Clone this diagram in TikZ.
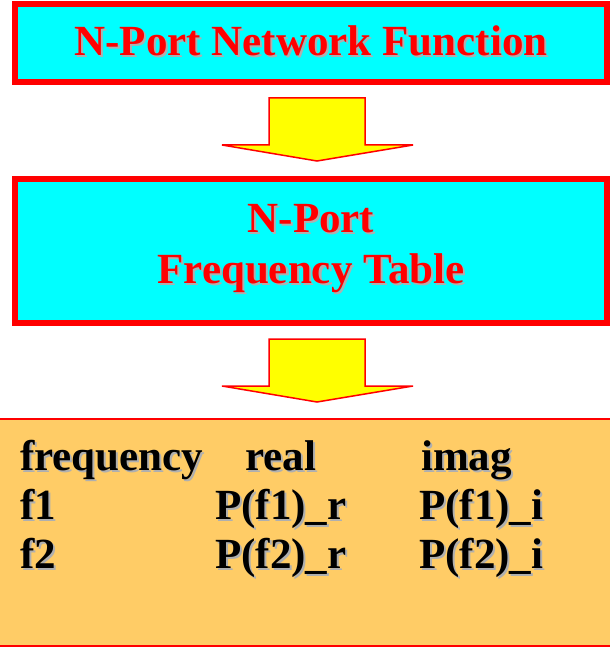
\documentclass[tikz,border=0pt]{standalone}
\usepackage{fontspec}
\setmainfont{Liberation Serif}
\usetikzlibrary{calc}

\definecolor{boxcyan}{RGB}{0,255,255}
\definecolor{boxred}{RGB}{255,0,0}
\definecolor{arrowyellow}{RGB}{255,255,0}
\definecolor{tableorange}{RGB}{255,204,102}
\definecolor{shadowgray}{RGB}{175,175,175}

% text with a soft grey drop shadow
\newcommand{\shtext}[2]{%
  \rlap{\hspace{2pt}\raisebox{-2pt}{\textcolor{shadowgray}{#2}}}\textcolor{#1}{#2}}

\tikzset{
  titlebox/.style={draw=boxred, line width=6pt, fill=boxcyan},
  bigarrow/.style={draw=boxred, line width=1.5pt, fill=arrowyellow, line join=miter},
  bigfont/.style={font=\bfseries\fontsize{43}{51}\selectfont, inner sep=0pt},
  titletext/.style={bigfont, anchor=base},
  celltext/.style={bigfont, anchor=base west},
}

\begin{document}
\begin{tikzpicture}[x=1pt, y=-1pt]
  \useasboundingbox (0,0) rectangle (610,647);

  % first block
  \draw[titlebox] (15,4) rectangle (607,82);
  \node[titletext] (t1) at (311,56) {\shtext{boxred}{N-Port Network Function}};

  % arrow between first and second block
  \coordinate (a1) at (317,98);
  \draw[bigarrow, shift={(a1)}]
    (-48,0) -- (48,0) -- (48,47) -- (96,47) -- (0,63) -- (-95,47) -- (-48,47) -- cycle;

  % second block
  \draw[titlebox] (15,179) rectangle (607,323);
  \node[titletext] (t2a) at (311,232) {\shtext{boxred}{N-Port}};
  \node[titletext] (t2b) at (311,283) {\shtext{boxred}{Frequency Table}};

  % arrow between second block and table
  \coordinate (a2) at (317,339);
  \draw[bigarrow, shift={(a2)}]
    (-48,0) -- (48,0) -- (48,47) -- (96,47) -- (0,63) -- (-95,47) -- (-48,47) -- cycle;

  % table panel
  \fill[tableorange] (0,419) rectangle (610,647);
  \draw[boxred, line width=2pt] (0,419) -- (610,419);
  \draw[boxred, line width=2pt] (0,646) -- (610,646);

  % table contents
  \node[celltext] (h1) at (20,470)  {\shtext{black}{frequency}};
  \node[celltext] (h2) at (245,470) {\shtext{black}{real}};
  \node[celltext] (h3) at (421,470) {\shtext{black}{imag}};
  \node[celltext] (r11) at (20,519)  {\shtext{black}{f1}};
  \node[celltext] (r12) at (215,519) {\shtext{black}{P(f1)\_r}};
  \node[celltext] (r13) at (419,519) {\shtext{black}{P(f1)\_i}};
  \node[celltext] (r21) at (20,568)  {\shtext{black}{f2}};
  \node[celltext] (r22) at (215,568) {\shtext{black}{P(f2)\_r}};
  \node[celltext] (r23) at (419,568) {\shtext{black}{P(f2)\_i}};
\end{tikzpicture}
\end{document}
